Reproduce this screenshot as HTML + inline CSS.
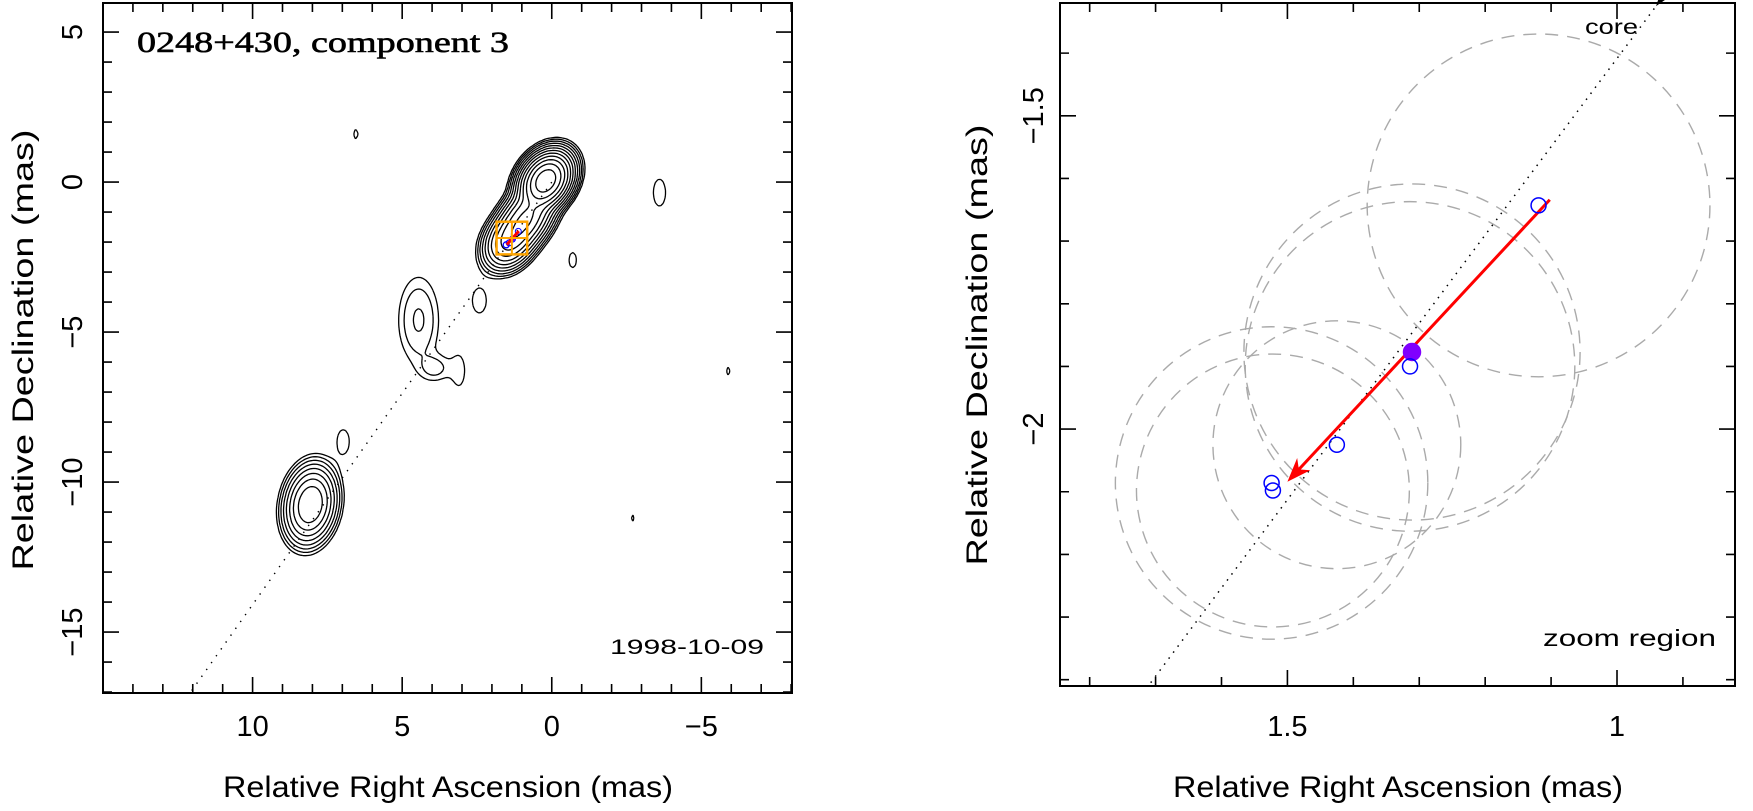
<!DOCTYPE html>
<html><head><meta charset="utf-8"><style>
html,body{margin:0;padding:0;background:#fff}
svg{display:block;font-family:"Liberation Sans",sans-serif}
</style></head><body>
<svg id="fig" width="1753" height="811" viewBox="0 0 1753 811" xmlns="http://www.w3.org/2000/svg">
<g id="left"></g>
<g id="right"></g>
</svg>
<script>
// ---------- data ----------
const compX   = [0.2, 0.87, 1.4, 8.07, 4.45, 3.9, 2.42, 3.1, 6.97, -3.6, -0.7, 6.55, -5.9, -2.7];
const compY   = [0.05, -1.22, -1.95, -10.75, -4.6, -6.2, -3.95, -6.3, -8.65, -0.35, -2.6, 1.6, -6.3, -11.2];
const compAmp = [1000, 220, 130, 110, 3.5, 2.2, 1.3, 1.3, 1.3, 1.3, 1.3, 1.15, 1.15, 1.15];
const compSMa = [0.42, 0.52, 0.44, 0.56, 0.9, 0.35, 0.57, 0.64, 0.55, 0.62, 0.35, 0.3, 0.25, 0.2];
const compSMi = [0.31, 0.32, 0.32, 0.36, 0.42, 0.3, 0.32, 0.24, 0.28, 0.28, 0.17, 0.14, 0.12, 0.1];
const compAng = [-54.7, -54.7, -54.7, -80, -90, 0, -90, -90, -90, -90, -90, -90, -90, -90];
const contourLevels = [1, 1.8, 3.2, 5.8, 10.5, 19, 34, 61, 110, 198, 356, 640];
// model-fit component positions (mas)
const ptX = [1.119, 1.311, 1.314, 1.425, 1.524, 1.522];
const ptY = [-1.643, -1.877, -1.900, -2.025, -2.086, -2.098];
const ptR = [0.260, 0.255, 0.250, 0.188, 0.237, 0.207];
const refIdx = 1;
const arrowFrom = [1.102, -1.634];
const arrowTo = [1.500, -2.084];
const axisRatio = 0.71;
const leftXTicks = [10, 5, 0, -5];
const leftYTicks = [5, 0, -5, -10, -15];
const rightXTicks = [1.5, 1];
const rightYTicks = [-1.5, -2];

const NS = "http://www.w3.org/2000/svg";
function mk(tag, attrs, parent){const e=document.createElementNS(NS,tag);for(const k in attrs)e.setAttribute(k,attrs[k]);parent.appendChild(e);return e;}
function fmt(v){return (v<0?"\u2212":"")+String(Math.abs(v));}

const L = {x0:103,x1:792,y0:3,y1:693,xa:15.0,xb:-8.03,ya:5.97,yb:-17.03};
const lx = v => L.x0 + (L.xa - v)/(L.xa-L.xb)*(L.x1-L.x0);
const ly = v => L.y0 + (L.ya - v)/(L.ya-L.yb)*(L.y1-L.y0);
const R = {x0:1060,x1:1735,y0:3,y1:686,xa:1.845,xb:0.821,ya:-1.32,yb:-2.41};
const rx = v => R.x0 + (R.xa - v)/(R.xa-R.xb)*(R.x1-R.x0);
const ry = v => R.y0 + (R.ya - v)/(R.ya-R.yb)*(R.y1-R.y0);

const gl = document.getElementById('left');
const gr = document.getElementById('right');

function field(x,y){
  let s=0;
  for(let i=0;i<compX.length;i++){
    const a=compAng[i]*Math.PI/180, dx=x-compX[i], dy=y-compY[i];
    const u=dx*Math.cos(a)+dy*Math.sin(a), w=-dx*Math.sin(a)+dy*Math.cos(a);
    const q=(u*u)/(compSMa[i]*compSMa[i])+(w*w)/(compSMi[i]*compSMi[i]);
    if(q<60) s+=compAmp[i]*Math.exp(-0.5*q);
  }
  return s;
}
const step=2.5;
const nx=Math.ceil((L.x1-L.x0)/step)+1, ny=Math.ceil((L.y1-L.y0)/step)+1;
const F=new Float32Array(nx*ny);
const pxToX = p => L.xa - (p-L.x0)/(L.x1-L.x0)*(L.xa-L.xb);
const pyToY = p => L.ya - (p-L.y0)/(L.y1-L.y0)*(L.ya-L.yb);
for(let j=0;j<ny;j++)for(let i=0;i<nx;i++)F[j*nx+i]=field(pxToX(L.x0+i*step),pyToY(L.y0+j*step));

const contG = mk('g',{},gl);


contourLevels.forEach((lev,li)=>{
  let d="";
  for(let j=0;j<ny-1;j++)for(let i=0;i<nx-1;i++){
    const a=F[j*nx+i],b=F[j*nx+i+1],c=F[(j+1)*nx+i+1],e=F[(j+1)*nx+i];
    let cs=(a>lev?8:0)|(b>lev?4:0)|(c>lev?2:0)|(e>lev?1:0);
    if(cs===0||cs===15)continue;
    const X=L.x0+i*step,Y=L.y0+j*step;
    const top=[X+step*(lev-a)/(b-a),Y], rgt=[X+step,Y+step*(lev-b)/(c-b)],
          bot=[X+step*(lev-e)/(c-e),Y+step], lft=[X,Y+step*(lev-a)/(e-a)];
    const segs={1:[[lft,bot]],2:[[bot,rgt]],3:[[lft,rgt]],4:[[top,rgt]],5:[[lft,top],[bot,rgt]],6:[[top,bot]],7:[[lft,top]],
      8:[[lft,top]],9:[[top,bot]],10:[[top,rgt],[lft,bot]],11:[[top,rgt]],12:[[lft,rgt]],13:[[bot,rgt]],14:[[lft,bot]]}[cs];
    segs.forEach(s=>{d+="M"+s[0][0].toFixed(1)+" "+s[0][1].toFixed(1)+"L"+s[1][0].toFixed(1)+" "+s[1][1].toFixed(1);});
  }
  const p=mk('path',{d:d,fill:'none',stroke:'#000','stroke-width':1.3},contG);
  
  
});

const ay0=0, ay1=L.yb;
const la=mk('line',{x1:lx(-axisRatio*ay0),y1:ly(ay0),x2:lx(-axisRatio*ay1),y2:ly(ay1),stroke:'#000','stroke-width':1.4,'stroke-dasharray':'1.4,7'},gl);



const zb=mk('g',{},gl);


mk('rect',{x:lx(R.xa),y:ly(R.ya),width:lx(R.xb)-lx(R.xa),height:ly(R.yb)-ly(R.ya),fill:'none',stroke:'#ffa500','stroke-width':2.5},zb);
ptX.forEach((v,i)=>{
  const c=mk('circle',{cx:lx(v),cy:ly(ptY[i]),r:i===refIdx?2.5:3,fill:i===refIdx?'#8000ff':'none',stroke:i===refIdx?'#8000ff':'#0000ff','stroke-width':1},zb);
  
  
});
mk('line',{x1:lx(arrowFrom[0]),y1:ly(arrowFrom[1]),x2:lx(arrowTo[0]),y2:ly(arrowTo[1]),stroke:'#ff0000','stroke-width':3},zb);
const mx=(lx(R.xa)+lx(R.xb))/2,my=(ly(R.ya)+ly(R.yb))/2;
mk('line',{x1:mx,y1:ly(R.ya),x2:mx,y2:ly(R.yb),stroke:'#ffa500','stroke-width':2},zb);
mk('line',{x1:lx(R.xa),y1:my,x2:lx(R.xb),y2:my,stroke:'#ffa500','stroke-width':2},zb);

function frame(g,P,fx,fy,xmaj,xmin,ymaj,ymin,xStart,xEnd,yStart,yEnd,name){
  const r=mk('rect',{x:P.x0,y:P.y0,width:P.x1-P.x0,height:P.y1-P.y0,fill:'none',stroke:'#000','stroke-width':2},g);
  
  
  let d="";
  const nX=Math.round((xEnd-xStart)/xmin);
  for(let k=0;k<=nX;k++){const v=xStart+k*xmin;const px=fx(v);if(px<P.x0||px>P.x1)continue;
    const maj=Math.abs(v/xmaj-Math.round(v/xmaj))<1e-6;const len=maj?16:9;
    d+=`M${px} ${P.y1}v${-len}M${px} ${P.y0}v${len}`;}
  const nY=Math.round((yEnd-yStart)/ymin);
  for(let k=0;k<=nY;k++){const v=yStart+k*ymin;const py=fy(v);if(py<P.y0||py>P.y1)continue;
    const maj=Math.abs(v/ymaj-Math.round(v/ymaj))<1e-6;const len=maj?16:9;
    d+=`M${P.x0} ${py}h${len}M${P.x1} ${py}h${-len}`;}
  const t=mk('path',{d:d,stroke:'#000','stroke-width':1.6,fill:'none'},g);
  
  
}
frame(gl,L,lx,ly,5,1,5,1,-8,15,-17,5,'left');

leftXTicks.forEach(v=>{const t=mk('text',{x:lx(v),y:736,'font-size':29,'text-anchor':'middle'},gl);t.textContent=fmt(v);
  });
leftYTicks.forEach(v=>{const t=mk('text',{x:0,y:0,'font-size':29,'text-anchor':'middle',transform:`translate(82,${ly(v)}) rotate(-90)`},gl);t.textContent=fmt(v);
  });
let t;
t=mk('text',{x:448,y:797,'font-size':30,'text-anchor':'middle',textLength:450,lengthAdjust:'spacingAndGlyphs'},gl);t.textContent='Relative Right Ascension (mas)';

t=mk('text',{x:0,y:0,'font-size':30,'text-anchor':'middle',textLength:441,lengthAdjust:'spacingAndGlyphs',transform:`translate(33,350) rotate(-90)`},gl);t.textContent='Relative Declination (mas)';

t=mk('text',{x:137,y:52,'font-size':30,'font-family':'"Liberation Serif",serif','stroke':'#000','stroke-width':0.6,textLength:372,lengthAdjust:'spacingAndGlyphs'},gl);t.textContent='0248+430, component 3';

t=mk('text',{x:610,y:654,'font-size':21,textLength:154,lengthAdjust:'spacingAndGlyphs'},gl);t.textContent='1998-10-09';


// ---------- RIGHT ----------
const defs=mk('defs',{},gr);
const clip=mk('clipPath',{id:'rclip'},defs);
mk('rect',{x:R.x0,y:R.y0,width:R.x1-R.x0,height:R.y1-R.y0},clip);
const inner=mk('g',{'clip-path':'url(#rclip)'},gr);


const sc=(R.x1-R.x0)/(R.xa-R.xb);
ptX.forEach((v,i)=>{
  const c=mk('circle',{cx:rx(v),cy:ry(ptY[i]),r:ptR[i]*sc,fill:'none',stroke:'#aaaaaa','stroke-width':1.4,'stroke-dasharray':'13,9'},inner);
  
  
});
const ry0=R.ya+0.02, ry1=R.yb-0.02;
const ra=mk('line',{x1:rx(-axisRatio*ry0),y1:ry(ry0),x2:rx(-axisRatio*ry1),y2:ry(ry1),stroke:'#000','stroke-width':1.5,'stroke-dasharray':'1.5,6'},inner);


const ax1=rx(arrowFrom[0]),ay1p=ry(arrowFrom[1]),ax2=rx(arrowTo[0]),ay2p=ry(arrowTo[1]);
const ang=Math.atan2(ay2p-ay1p,ax2-ax1);
const arr=mk('g',{},inner);


mk('line',{x1:ax1,y1:ay1p,x2:ax2-8*Math.cos(ang),y2:ay2p-8*Math.sin(ang),stroke:'#ff0000','stroke-width':3},arr);
const hl=24,hw=9;
mk('polygon',{points:`${ax2},${ay2p} ${ax2-hl*Math.cos(ang)+hw*Math.sin(ang)},${ay2p-hl*Math.sin(ang)-hw*Math.cos(ang)} ${ax2-0.7*hl*Math.cos(ang)},${ay2p-0.7*hl*Math.sin(ang)} ${ax2-hl*Math.cos(ang)-hw*Math.sin(ang)},${ay2p-hl*Math.sin(ang)+hw*Math.cos(ang)}`,fill:'#ff0000'},arr);
ptX.forEach((v,i)=>{
  const c=mk('circle',{cx:rx(v),cy:ry(ptY[i]),r:i===refIdx?8.5:7.5,fill:i===refIdx?'#8000ff':'none',stroke:i===refIdx?'#8000ff':'#0000ff','stroke-width':1.5},inner);
  
  
});
const cyv=R.ya-0.005, cxv=-axisRatio*cyv;
const cpx=rx(cxv), cpy=ry(cyv);
const ca=Math.atan2(ry(R.ya)-ry(R.ya+0.1), rx(-axisRatio*R.ya)-rx(-axisRatio*(R.ya+0.1)));
const coreArrow=mk('polygon',{points:`${cpx},${cpy} ${cpx-18*Math.cos(ca)+6*Math.sin(ca)},${cpy-18*Math.sin(ca)-6*Math.cos(ca)} ${cpx-12*Math.cos(ca)},${cpy-12*Math.sin(ca)} ${cpx-18*Math.cos(ca)-6*Math.sin(ca)},${cpy-18*Math.sin(ca)+6*Math.cos(ca)}`,fill:'#000'},gr);


t=mk('text',{x:1585,y:34,'font-size':21,textLength:53,lengthAdjust:'spacingAndGlyphs'},gr);t.textContent='core';

t=mk('text',{x:1543,y:646,'font-size':23,textLength:173,lengthAdjust:'spacingAndGlyphs'},gr);t.textContent='zoom region';


frame(gr,R,rx,ry,0.5,0.1,0.5,0.1,0.8,1.9,-2.5,-1.3,'right');
rightXTicks.forEach(v=>{const t=mk('text',{x:rx(v),y:736,'font-size':29,'text-anchor':'middle'},gr);t.textContent=fmt(v);
  });
rightYTicks.forEach(v=>{const t=mk('text',{x:0,y:0,'font-size':29,'text-anchor':'middle',transform:`translate(1043,${ry(v)}) rotate(-90)`},gr);t.textContent=fmt(v);
  });
t=mk('text',{x:1398,y:797,'font-size':30,'text-anchor':'middle',textLength:450,lengthAdjust:'spacingAndGlyphs'},gr);t.textContent='Relative Right Ascension (mas)';

t=mk('text',{x:0,y:0,'font-size':30,'text-anchor':'middle',textLength:441,lengthAdjust:'spacingAndGlyphs',transform:`translate(987,345) rotate(-90)`},gr);t.textContent='Relative Declination (mas)';

</script>
</body></html>
